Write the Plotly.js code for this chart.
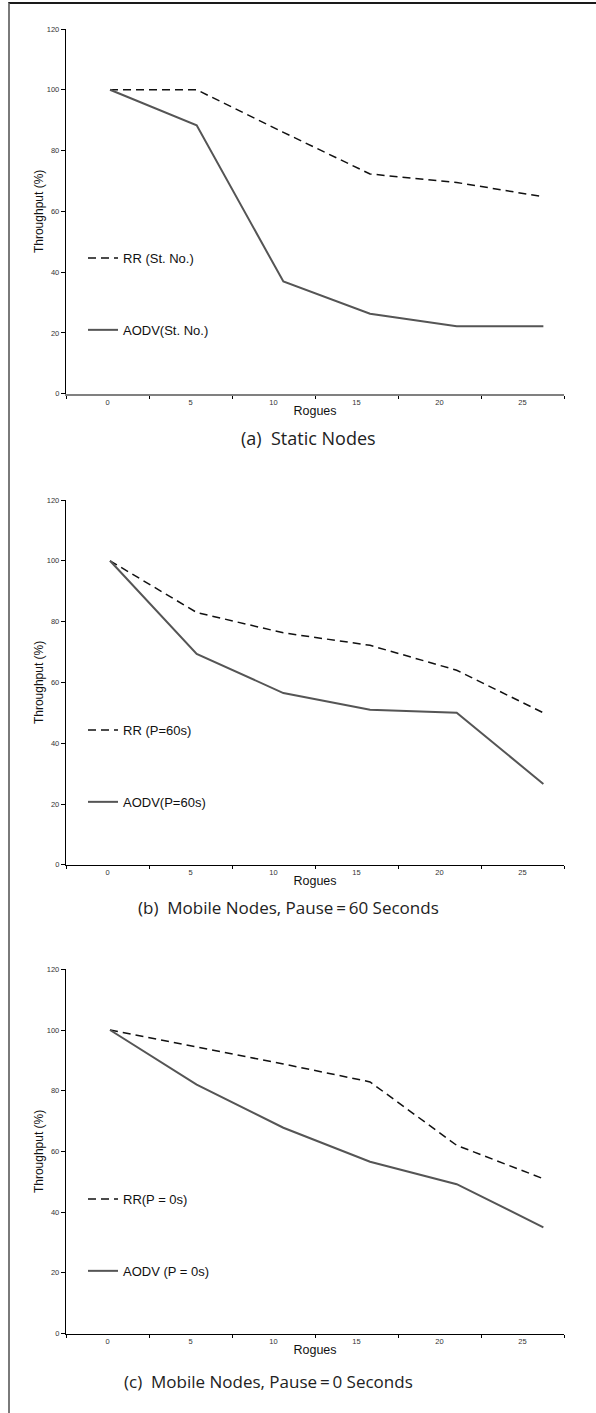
<!DOCTYPE html>
<html>
<head>
<meta charset="utf-8">
<script src="https://cdn.plot.ly/plotly-3.0.1.min.js"></script>
<style>
  html, body { margin: 0; padding: 0; background: #fff; }
  #wrap { position: relative; width: 596px; height: 1413px; }
  #frame { position: absolute; left: 8px; top: 2px; width: 588px; height: 1411px;
           border-top: 2px solid #1a1a1a; border-left: 2px solid #7a7a7a; box-sizing: border-box; }
  #chart { position: absolute; left: 0; top: 0; width: 596px; height: 1413px; }
</style>
</head>
<body>
<div id="wrap">
  <div id="frame"></div>
  <div id="chart"></div>
</div>
<script>
// ---- data ----
const rogues = [0, 5, 10, 15, 20, 25];
const tickLabels = ["0", "5", "10", "15", "20", "25"];

const rrStatic   = [100, 100, 86, 72.3, 69.5, 64.8];
const aodvStatic = [100, 88.3, 36.9, 26.3, 22.2, 22.2];

const rrP60   = [100, 83, 76.3, 72.2, 64, 50];
const aodvP60 = [100, 69.4, 56.5, 51, 50, 26.6];

const rrP0   = [100, 94.5, 88.8, 82.9, 62, 51];
const aodvP0 = [100, 82, 67.8, 56.6, 49.2, 35];

const rrNames   = ["RR (St. No.)", "RR (P=60s)", "RR(P = 0s)"];
const aodvNames = ["AODV(St. No.)", "AODV(P=60s)", "AODV (P = 0s)"];
const captions  = ["(a)  Static Nodes",
                   "(b)  Mobile Nodes, Pause\u2009=\u200960 Seconds",
                   "(c)  Mobile Nodes, Pause\u2009=\u20090 Seconds"];
const yTitle = "Throughput (%)";
const xTitle = "Rogues";

// ---- layout helpers ----
const W = 596, H = 1413;
const fy = px => 1 - px / H;
const fx = px => px / W;
const xDom = [fx(66), fx(564)];
// plot tops/bottoms (pixels)
const panels = [
  {top: 29,    bottom: 393.7, legTop: 243, capX: 308, capY: 438, capSize: 18, xline: {color: '#808080', width: 2.2}},
  {top: 500,   bottom: 864.8, legTop: 715, capX: 288, capY: 907, capSize: 17, xline: {color: '#000', width: 1.4}},
  {top: 969.3, bottom: 1333.5, legTop: 1184, capX: 268, capY: 1381, capSize: 17, xline: {color: '#000', width: 1.4}}
];
const series = [[rrStatic, aodvStatic], [rrP60, aodvP60], [rrP0, aodvP0]];

const tickFont = {family: 'Liberation Sans, Arial, sans-serif', size: 7.5, color: '#333'};
const titleFont = {family: 'Liberation Sans, Arial, sans-serif', size: 12.5, color: '#111'};

const data = [];
const layout = {
  width: W, height: H,
  margin: {l: 0, r: 0, t: 0, b: 0},
  paper_bgcolor: 'rgba(0,0,0,0)',
  plot_bgcolor: 'rgba(0,0,0,0)',
  annotations: [],
  showlegend: true
};

panels.forEach((p, i) => {
  const n = i + 1;
  const xd = n === 1 ? 'x' : 'x' + n;         // data x axis
  const xl = 'x' + (n + 3);                    // label x axis
  const yy = n === 1 ? 'y' : 'y' + n;
  const legKey = n === 1 ? 'legend' : 'legend' + n;
  const xdKey = n === 1 ? 'xaxis' : 'xaxis' + n;
  const xlKey = 'xaxis' + (n + 3);
  const yKey = n === 1 ? 'yaxis' : 'yaxis' + n;

  data.push({
    type: 'scatter', mode: 'lines', x: rogues, y: series[i][0],
    xaxis: xd, yaxis: yy, name: rrNames[i], legend: legKey, legendgroup: 'rr' + n,
    line: {color: '#111', width: 1.5, dash: '8px,5px'}, hoverinfo: 'skip'
  });
  data.push({
    type: 'scatter', mode: 'lines', x: rogues, y: series[i][1],
    xaxis: xd, yaxis: yy, name: aodvNames[i], legend: legKey, legendgroup: 'ao' + n,
    line: {color: '#555', width: 2}, hoverinfo: 'skip'
  });
  // category axis carrying the tick labels
  data.push({
    type: 'scatter', mode: 'lines', x: tickLabels, y: tickLabels.map(() => null),
    xaxis: xl, yaxis: yy, showlegend: false, hoverinfo: 'skip'
  });

  const yDom = [fy(p.bottom), fy(p.top)];
  layout[xdKey] = {
    domain: xDom, anchor: yy, range: [-2.539, 26.19], visible: false, fixedrange: true
  };
  layout[xlKey] = {
    domain: xDom, anchor: yy, overlaying: xd, type: 'category', range: [-0.5, 5.5],
    tickson: 'boundaries', ticks: 'outside', ticklen: 3, tickcolor: '#000',
    showline: true, linecolor: p.xline.color, linewidth: p.xline.width,
    showgrid: false, zeroline: false, tickfont: tickFont,
    title: {text: xTitle, font: titleFont, standoff: 0}
  };
  layout[yKey] = {
    domain: yDom, anchor: xd, range: [0, 120], dtick: 20, tick0: 0,
    ticks: 'outside', ticklen: 4, tickcolor: '#000',
    showline: true, linecolor: '#000', linewidth: 1.2,
    showgrid: false, zeroline: false, tickfont: tickFont,
    title: {text: yTitle, font: {family: 'Liberation Sans, Arial, sans-serif', size: 12, color: '#111'}, standoff: 0}
  };
  layout[legKey] = {
    x: fx(83), y: fy(p.legTop), xanchor: 'left', yanchor: 'top',
    bgcolor: 'rgba(0,0,0,0)', borderwidth: 0,
    font: {family: 'Liberation Sans, Arial, sans-serif', size: 13, color: '#111'},
    traceorder: 'grouped', tracegroupgap: 52, itemwidth: 30
  };
  layout.annotations.push({
    xref: 'paper', yref: 'paper', x: fx(p.capX), y: fy(p.capY),
    xanchor: 'center', yanchor: 'middle', showarrow: false,
    text: captions[i],
    font: {family: 'Open Sans, Noto Sans, sans-serif', size: p.capSize, color: '#222'}
  });
});

Plotly.newPlot('chart', data, layout, {staticPlot: true, displayModeBar: false});
</script>
</body>
</html>
